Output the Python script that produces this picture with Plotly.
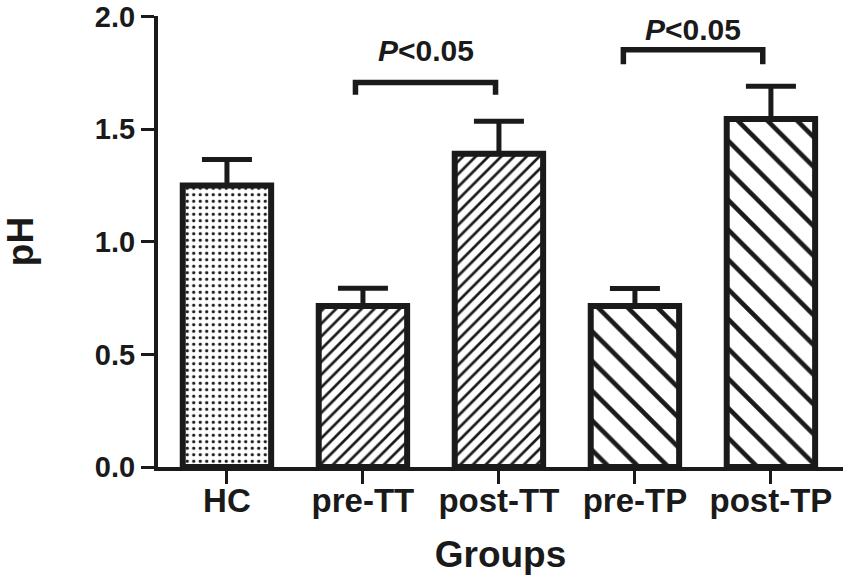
import plotly.graph_objects as go

# ---- data ----
categories = ["HC", "pre-TT", "post-TT", "pre-TP", "post-TP"]
means = [1.25, 0.715, 1.39, 0.715, 1.545]
sem = [0.115, 0.078, 0.145, 0.077, 0.145]
y_ticks = [0.0, 0.5, 1.0, 1.5, 2.0]
patterns = [".", "/", "/", "\\", "\\"]

# significance brackets
brackets_x0 = [0.945, 2.915]
brackets_x1 = [1.975, 3.94]
brackets_y = [1.707, 1.852]
brackets_leg = [1.652, 1.788]
label_y = [1.85, 1.94]
label_text = ["<i>P</i>&lt;0.05", "<i>P</i>&lt;0.05"]

INK = "#1a1a1a"
FONT = "Liberation Sans"

fig = go.Figure()

pat_size = {".": 6.5, "/": 9, "\\": 21}
pat_sol = {".": 0.2, "/": 0.3, "\\": 0.22}

for i, cat in enumerate(categories):
    shp = patterns[i]
    fig.add_trace(go.Bar(
        x=[i], y=[means[i]], width=0.65,
        marker=dict(
            color="white",
            line=dict(color=INK, width=6),
            pattern=dict(shape=shp, size=pat_size[shp], solidity=pat_sol[shp],
                         fgcolor=INK, bgcolor="white", fgopacity=1, fillmode="replace"),
        ),
        error_y=dict(type="data", array=[sem[i]], arrayminus=[0], symmetric=False,
                     color=INK, thickness=5, width=25),
        showlegend=False, name=cat,
    ))

for k in range(len(brackets_x0)):
    x0, x1 = brackets_x0[k], brackets_x1[k]
    fig.add_trace(go.Scatter(
        x=[x0, x0, x1, x1],
        y=[brackets_leg[k], brackets_y[k], brackets_y[k], brackets_leg[k]],
        mode="lines", line=dict(color=INK, width=5.5),
        showlegend=False, hoverinfo="skip", cliponaxis=False,
    ))
    fig.add_annotation(
        x=(x0 + x1) / 2, y=label_y[k], text=label_text[k], showarrow=False,
        font=dict(family=FONT, size=30, color=INK, weight="bold"),
        xanchor="center", yanchor="middle",
    )

fig.update_layout(
    width=843, height=575,
    margin=dict(l=158, r=0, t=16, b=108),
    paper_bgcolor="white", plot_bgcolor="white",
    xaxis=dict(
        range=[-0.507, 4.53],
        tickmode="array", tickvals=list(range(len(categories))), ticktext=categories,
        showline=True, linewidth=4, linecolor=INK,
        ticks="outside", ticklen=13, tickwidth=3, tickcolor=INK,
        tickfont=dict(family=FONT, size=33, color=INK, weight="bold"),
        ticklabelstandoff=-12,
        showgrid=False, zeroline=False,
        title=dict(text="Groups", font=dict(family=FONT, size=37, color=INK, weight="bold"),
                   standoff=28),
        automargin=False,
    ),
    yaxis=dict(
        range=[0, 2.002],
        tickmode="array", tickvals=y_ticks, ticktext=[f"{v:.1f}" for v in y_ticks],
        showline=True, linewidth=4, linecolor=INK,
        ticks="outside", ticklen=13, tickwidth=3, tickcolor=INK,
        tickfont=dict(family=FONT, size=29, color=INK, weight="bold"),
        ticklabeloverflow="allow",
        showgrid=False, zeroline=False,
        title=dict(text="pH", font=dict(family=FONT, size=37, color=INK, weight="bold"),
                   standoff=58),
        automargin=False,
    ),
)

fig.write_html("out.html", config={"displayModeBar": False},
               post_script="document.body.style.margin='0';")
